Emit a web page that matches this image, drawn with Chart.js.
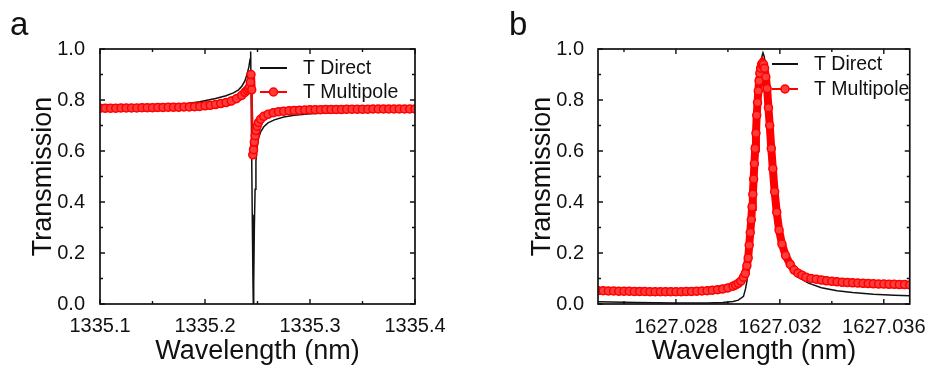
<!DOCTYPE html>
<html lang="en">
<head>
<meta charset="UTF-8">
<title>Transmission spectra</title>
<script src="https://cdn.jsdelivr.net/npm/chart.js"></script>
<style>
  html, body { margin: 0; padding: 0; background: #fff; }
  #wrap { position: relative; width: 930px; height: 369px; }
  .panel { position: absolute; top: 0; width: 465px; height: 369px; }
  #panelA { left: 0; }
  #panelB { left: 465px; }
</style>
</head>
<body>
<div id="wrap">
  <div class="panel" id="panelA"><canvas id="chartA" width="465" height="369"></canvas></div>
  <div class="panel" id="panelB"><canvas id="chartB" width="465" height="369"></canvas></div>
</div>
<script>
// panel a: Fano resonance near 1335.245 nm
var aDirectX = [1335.100, 1335.130, 1335.160, 1335.180, 1335.195, 1335.210, 1335.220, 1335.227, 1335.232, 1335.2352,
  1335.2380, 1335.2400, 1335.2418, 1335.2429, 1335.2435, 1335.2442, 1335.2450, 1335.2457, 1335.2460, 1335.2464,
  1335.2470, 1335.2477, 1335.2485, 1335.2495, 1335.2510, 1335.2530, 1335.2560, 1335.2600, 1335.2660, 1335.2750,
  1335.2850, 1335.3000, 1335.3200, 1335.3500, 1335.4000];
var aDirectY = [0.767, 0.770, 0.776, 0.784, 0.793, 0.806, 0.817, 0.828, 0.840, 0.855,
  0.875, 0.900, 0.930, 0.960, 0.990, 0.700, 0.350, 0.080, 0.000, 0.080,
  0.300, 0.450, 0.560, 0.610, 0.650, 0.675, 0.695, 0.710, 0.722, 0.733,
  0.740, 0.746, 0.750, 0.753, 0.756];

var aMultiX = [1335.100, 1335.105, 1335.110, 1335.115, 1335.120, 1335.125, 1335.130, 1335.135, 1335.140, 1335.145,
  1335.150, 1335.155, 1335.160, 1335.165, 1335.170, 1335.175, 1335.180, 1335.185, 1335.190, 1335.195,
  1335.200, 1335.205, 1335.210, 1335.215, 1335.220, 1335.225, 1335.230, 1335.235, 1335.238, 1335.240,
  1335.2415, 1335.2425, 1335.2432, 1335.2438, 1335.2445, 1335.2455, 1335.2462, 1335.2470, 1335.2478, 1335.2486,
  1335.2496, 1335.2510, 1335.2530, 1335.2560, 1335.2600, 1335.2650, 1335.2700, 1335.2750, 1335.2800, 1335.2850,
  1335.2900, 1335.2950, 1335.300, 1335.305, 1335.310, 1335.315, 1335.320, 1335.325, 1335.330, 1335.335,
  1335.340, 1335.345, 1335.350, 1335.355, 1335.360, 1335.365, 1335.370, 1335.375, 1335.380, 1335.385,
  1335.390, 1335.395, 1335.400];
var aMultiY = [0.768, 0.768, 0.768, 0.768, 0.769, 0.769, 0.769, 0.769, 0.770, 0.770,
  0.770, 0.771, 0.771, 0.772, 0.772, 0.772, 0.773, 0.773, 0.774, 0.775,
  0.777, 0.779, 0.782, 0.786, 0.790, 0.796, 0.805, 0.818, 0.830, 0.838,
  0.845, 0.852, 0.870, 0.900, 0.840, 0.585, 0.605, 0.635, 0.660, 0.680,
  0.697, 0.712, 0.725, 0.736, 0.744, 0.750, 0.754, 0.756, 0.758, 0.759,
  0.760, 0.761, 0.762, 0.762, 0.762, 0.763, 0.763, 0.763, 0.763, 0.764,
  0.764, 0.764, 0.764, 0.764, 0.765, 0.765, 0.765, 0.765, 0.765, 0.765,
  0.765, 0.765, 0.765];
var aTicksX = [1335.1, 1335.2, 1335.3, 1335.4];

// panel b: Lorentzian peak near 1627.0313 nm
var bDirectX = [1627.0250, 1627.0265, 1627.0280, 1627.0292, 1627.0298, 1627.0302, 1627.0304, 1627.0306, 1627.03068, 1627.03075,
  1627.03082, 1627.03090, 1627.03100, 1627.03110, 1627.03120, 1627.03128, 1627.03135, 1627.03140, 1627.03146, 1627.03155,
  1627.03165, 1627.03178, 1627.03195, 1627.03215, 1627.03240, 1627.03270, 1627.03310, 1627.03360, 1627.03420, 1627.03480,
  1627.03560, 1627.03640, 1627.03700];
var bDirectY = [0.009, 0.006, 0.004, 0.004, 0.006, 0.010, 0.015, 0.030, 0.060, 0.100,
  0.160, 0.270, 0.450, 0.660, 0.860, 0.960, 0.985, 0.970, 0.900, 0.740,
  0.560, 0.390, 0.260, 0.180, 0.135, 0.105, 0.082, 0.064, 0.052, 0.045,
  0.038, 0.034, 0.032];

var bMultiX = [1627.0250, 1627.0252, 1627.0254, 1627.0256, 1627.0258, 1627.0260, 1627.0262, 1627.0264, 1627.0266, 1627.0268,
  1627.0270, 1627.0272, 1627.0274, 1627.0276, 1627.0278, 1627.0280, 1627.0282, 1627.0284, 1627.0286, 1627.0288,
  1627.0290, 1627.0292, 1627.0294, 1627.0296, 1627.0298, 1627.0300,
  1627.0302, 1627.0303, 1627.0304, 1627.0305, 1627.0306, 1627.03067, 1627.03073, 1627.03078, 1627.03082, 1627.03086,
  1627.03090, 1627.03093, 1627.03096, 1627.03099, 1627.03102, 1627.03105, 1627.03108, 1627.03111, 1627.03114, 1627.03117,
  1627.03120, 1627.03123, 1627.03126, 1627.03130, 1627.03133, 1627.03137, 1627.03141, 1627.03146, 1627.03151, 1627.03156,
  1627.03161, 1627.03167, 1627.03173, 1627.03180, 1627.03188, 1627.03197, 1627.03208, 1627.03222, 1627.03240, 1627.03255,
  1627.03270, 1627.03285,
  1627.0330, 1627.0332, 1627.0334, 1627.0336, 1627.0338, 1627.0340, 1627.0342, 1627.0344, 1627.0346, 1627.0348,
  1627.0350, 1627.0352, 1627.0354, 1627.0356, 1627.0358, 1627.0360, 1627.0362, 1627.0364, 1627.0366, 1627.0368,
  1627.0370];
var bMultiY = [0.052, 0.052, 0.051, 0.051, 0.050, 0.050, 0.050, 0.049, 0.049, 0.049,
  0.048, 0.048, 0.048, 0.048, 0.048, 0.048, 0.048, 0.049, 0.049, 0.050,
  0.051, 0.052, 0.054, 0.056, 0.059, 0.063,
  0.070, 0.075, 0.081, 0.090, 0.105, 0.120, 0.150, 0.180, 0.230, 0.280,
  0.330, 0.380, 0.430, 0.490, 0.550, 0.610, 0.670, 0.740, 0.790, 0.835,
  0.875, 0.905, 0.925, 0.940, 0.945, 0.940, 0.925, 0.890, 0.845, 0.770,
  0.700, 0.610, 0.530, 0.440, 0.360, 0.290, 0.235, 0.190, 0.155, 0.133,
  0.121, 0.113,
  0.105, 0.100, 0.097, 0.094, 0.091, 0.089, 0.087, 0.085, 0.084, 0.083,
  0.082, 0.081, 0.080, 0.079, 0.078, 0.078, 0.077, 0.077, 0.076, 0.076,
  0.075];
var bTicksX = [1627.028, 1627.032, 1627.036];

var ticksY = [0, 0.2, 0.4, 0.6, 0.8, 1.0];

var FONT = '"Liberation Sans", Arial, Helvetica, sans-serif';
var INK = '#111';
var RED = '#ff0000';

function pairs(xs, ys) {
  return xs.map(function(x, i) { return { x: x, y: ys[i] }; });
}

// axis box with inward major/minor ticks on all four sides
function minorValues(scale) {
  var v = scale.ticks.map(function(t) { return t.value; });
  var step = v[1] - v[0], out = [];
  for (var i = -1; i < v.length; i++) {
    var m = v[0] + (i + 0.5) * step;
    if (m > scale.min + 1e-9 && m < scale.max - 1e-9) out.push(m);
  }
  return out;
}

var framePlugin = {
  id: 'frame',
  afterDatasetsDraw: function(chart) {
    var ctx = chart.ctx, a = chart.chartArea;
    ctx.save();
    ctx.strokeStyle = INK;
    ctx.lineWidth = 1.7;
    ctx.strokeRect(a.left, a.top, a.right - a.left, a.bottom - a.top);
    ctx.lineWidth = 1.4;
    function marks(scale, values, len) {
      values.forEach(function(v) {
        var p = scale.getPixelForValue(v);
        ctx.beginPath();
        if (scale.isHorizontal()) {
          ctx.moveTo(p, a.bottom); ctx.lineTo(p, a.bottom - len);
          ctx.moveTo(p, a.top); ctx.lineTo(p, a.top + len);
        } else {
          ctx.moveTo(a.left, p); ctx.lineTo(a.left + len, p);
          ctx.moveTo(a.right, p); ctx.lineTo(a.right - len, p);
        }
        ctx.stroke();
      });
    }
    [chart.scales.x, chart.scales.y].forEach(function(s) {
      marks(s, s.ticks.map(function(t) { return t.value; }), 5);
      marks(s, minorValues(s), 3);
    });
    ctx.restore();
  }
};

// legend placed inside the plot, Origin style
var legendPlugin = {
  id: 'insideLegend',
  afterDatasetsDraw: function(chart, args, o) {
    var ctx = chart.ctx, row = 0;
    ctx.save();
    ctx.font = '19.5px ' + FONT;
    ctx.textBaseline = 'middle';
    chart.data.datasets.forEach(function(ds) {
      if (!ds.label) return;
      var y = o.y + row * o.gap, x0 = o.x, x1 = o.x + o.len;
      ctx.strokeStyle = ds.borderColor;
      ctx.lineWidth = 2;
      ctx.beginPath(); ctx.moveTo(x0, y); ctx.lineTo(x1, y); ctx.stroke();
      if (ds.pointRadius) {
        ctx.beginPath();
        ctx.arc((x0 + x1) / 2, y, ds.pointRadius, 0, Math.PI * 2);
        ctx.fillStyle = ds.pointBackgroundColor; ctx.fill();
        ctx.lineWidth = ds.pointBorderWidth; ctx.strokeStyle = ds.pointBorderColor; ctx.stroke();
      }
      ctx.fillStyle = INK;
      ctx.fillText(ds.label, x1 + o.textGap, y + 1);
      row++;
    });
    ctx.restore();
  }
};

// panel letter
var tagPlugin = {
  id: 'panelTag',
  afterDraw: function(chart, args, o) {
    var ctx = chart.ctx;
    ctx.save();
    ctx.font = '33px ' + FONT;
    ctx.fillStyle = INK;
    ctx.textBaseline = 'alphabetic';
    ctx.fillText(o.text, o.x, o.y);
    ctx.restore();
  }
};

function makeChart(id, cfg) {
  var multi = pairs(cfg.multiX, cfg.multiY);
  var datasets = [{
    label: 'T Direct',
    data: pairs(cfg.directX, cfg.directY),
    showLine: true,
    borderColor: INK,
    borderWidth: 1.5,
    pointRadius: 0,
    order: 2
  }, {
    // solid band under the dense markers; thin where the curve jumps
    data: multi,
    showLine: true,
    borderColor: RED,
    borderWidth: 8,
    pointRadius: 0,
    order: 1,
    segment: {
      borderWidth: function(c) { return Math.abs(c.p1.parsed.y - c.p0.parsed.y) > 0.15 ? 2 : undefined; }
    }
  }, {
    label: 'T Multipole',
    data: multi,
    showLine: true,
    borderColor: RED,
    borderWidth: 2,
    pointRadius: 4,
    pointBorderWidth: 1.5,
    pointBorderColor: RED,
    pointBackgroundColor: '#ff3c3c',
    order: 0
  }];

  return new Chart(document.getElementById(id), {
    type: 'scatter',
    data: { datasets: datasets },
    options: {
      responsive: false,
      animation: false,
      events: [],
      layout: { padding: cfg.padding },
      scales: {
        x: {
          type: 'linear',
          min: cfg.xMin,
          max: cfg.xMax,
          afterBuildTicks: function(s) { s.ticks = cfg.xTicks.map(function(v) { return { value: v }; }); },
          afterFit: function(s) { s.height = 65; },
          grid: { display: false },
          border: { display: false },
          ticks: {
            autoSkip: false,
            maxRotation: 0,
            color: INK,
            padding: cfg.xTickPad,
            font: { family: FONT, size: cfg.tickSize },
            callback: function(v) { return v.toFixed(cfg.xDigits); }
          },
          title: {
            display: true,
            text: 'Wavelength (nm)',
            color: INK,
            font: { family: FONT, size: 27, lineHeight: 1.2 },
            padding: { top: 0, bottom: 1 }
          }
        },
        y: {
          min: 0,
          max: 1,
          afterBuildTicks: function(s) { s.ticks = ticksY.map(function(v) { return { value: v }; }); },
          afterFit: function(s) { s.width = cfg.yWidth; },
          grid: { display: false },
          border: { display: false },
          ticks: {
            color: INK,
            padding: cfg.yTickPad,
            font: { family: FONT, size: cfg.tickSize },
            callback: function(v) { return v.toFixed(1); }
          },
          title: {
            display: true,
            text: 'Transmission',
            color: INK,
            font: { family: FONT, size: 27, lineHeight: 1.2 },
            padding: { top: cfg.yTitlePad, bottom: 0 }
          }
        }
      },
      plugins: {
        legend: { display: false },
        tooltip: { enabled: false },
        insideLegend: cfg.legend,
        panelTag: cfg.tag
      }
    },
    plugins: [framePlugin, legendPlugin, tagPlugin]
  });
}

makeChart('chartA', {
  directX: aDirectX, directY: aDirectY,
  multiX: aMultiX, multiY: aMultiY,
  xMin: 1335.1, xMax: 1335.4, xTicks: aTicksX, xDigits: 1,
  padding: { left: 0, right: 50, top: 49, bottom: 0 },
  yWidth: 100, yTickPad: 7, xTickPad: 2, tickSize: 20, yTitlePad: 27.5,
  legend: { x: 260, y: 68, gap: 24, len: 27, textGap: 16 },
  tag: { text: 'a', x: 10, y: 35 }
});

makeChart('chartB', {
  directX: bDirectX, directY: bDirectY,
  multiX: bMultiX, multiY: bMultiY,
  xMin: 1627.025, xMax: 1627.037, xTicks: bTicksX, xDigits: 3,
  padding: { left: 0, right: 18, top: 49, bottom: 0 },
  yWidth: 133, yTickPad: 6, xTickPad: 3, tickSize: 20, yTitlePad: 61,
  legend: { x: 307, y: 64, gap: 25, len: 26, textGap: 16 },
  tag: { text: 'b', x: 44, y: 35 }
});
</script>
</body>
</html>
